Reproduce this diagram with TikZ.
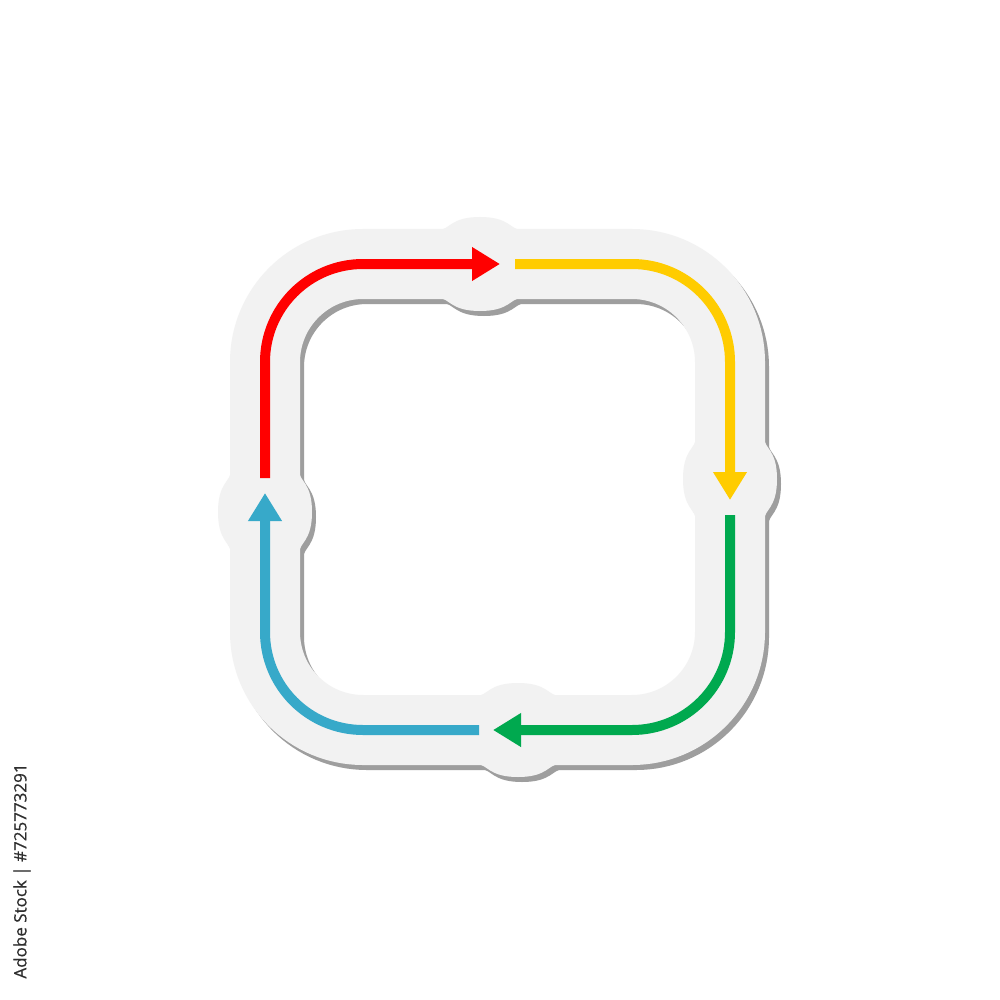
\documentclass[tikz,border=0pt]{standalone}
\usepackage{fontspec}
\newfontfamily\wmfont[FakeBold=0.5]{Open Sans}
\usetikzlibrary{arrows.meta}
\definecolor{bandgray}{HTML}{F2F2F2}
\definecolor{shadowgray}{HTML}{9E9E9E}
\definecolor{cred}{HTML}{FF0000}
\definecolor{cyellow}{HTML}{FFCC00}
\definecolor{cgreen}{HTML}{00A94F}
\definecolor{cblue}{HTML}{37A9C9}
\definecolor{wmtext}{HTML}{2E2E2E}
\tikzset{
  bandline/.style={line width=70pt, rounded corners=98pt},
  arrowline/.style={line width=10pt, rounded corners=98pt, -{Triangle[length=28pt,width=32pt]}},
}
\newcommand{\stickerbump}{%
  (-42,-34) .. controls (-30,-34) and (-30,-47) .. (0,-47)
  .. controls (30,-47) and (30,-34) .. (42,-34) -- (42,34)
  .. controls (30,34) and (30,47) .. (0,47)
  .. controls (-30,47) and (-30,34) .. (-42,34) -- cycle}
\begin{document}
\begin{tikzpicture}[x=1pt,y=-1pt]
\useasboundingbox[fill=white] (0,0) rectangle (1000,1000);
% sticker shape: shadow then band
\foreach \dx/\dy/\col in {4/5/shadowgray, 0/0/bandgray}{
  \begin{scope}[shift={(\dx,\dy)}]
    \draw[bandline, draw=\col] (265,264) rectangle (730,730);
    \fill[\col, shift={(480,264)}] \stickerbump;
    \fill[\col, shift={(730,479)}, rotate=90] \stickerbump;
    \fill[\col, shift={(518,730)}] \stickerbump;
    \fill[\col, shift={(265,512)}, rotate=90] \stickerbump;
  \end{scope}
}
% arrow end points
\coordinate (rS) at (265,478);
\coordinate (rE) at (500,264);
\coordinate (yS) at (515,264);
\coordinate (yE) at (730,500);
\coordinate (gS) at (730,515);
\coordinate (gE) at (493,730);
\coordinate (bS) at (479,730);
\coordinate (bE) at (265,493);
\draw[arrowline, cred] (rS) |- (rE);
\draw[arrowline, cyellow] (yS) -| (yE);
\draw[arrowline, cgreen] (gS) |- (gE);
\draw[arrowline, cblue] (bS) -| (bE);
% credit line
\node[rotate=90, text=wmtext, font=\wmfont\fontsize{17}{20}\selectfont, inner sep=0pt] (credit) at (22,871) {Adobe Stock | \#725773291};
\end{tikzpicture}
\end{document}
